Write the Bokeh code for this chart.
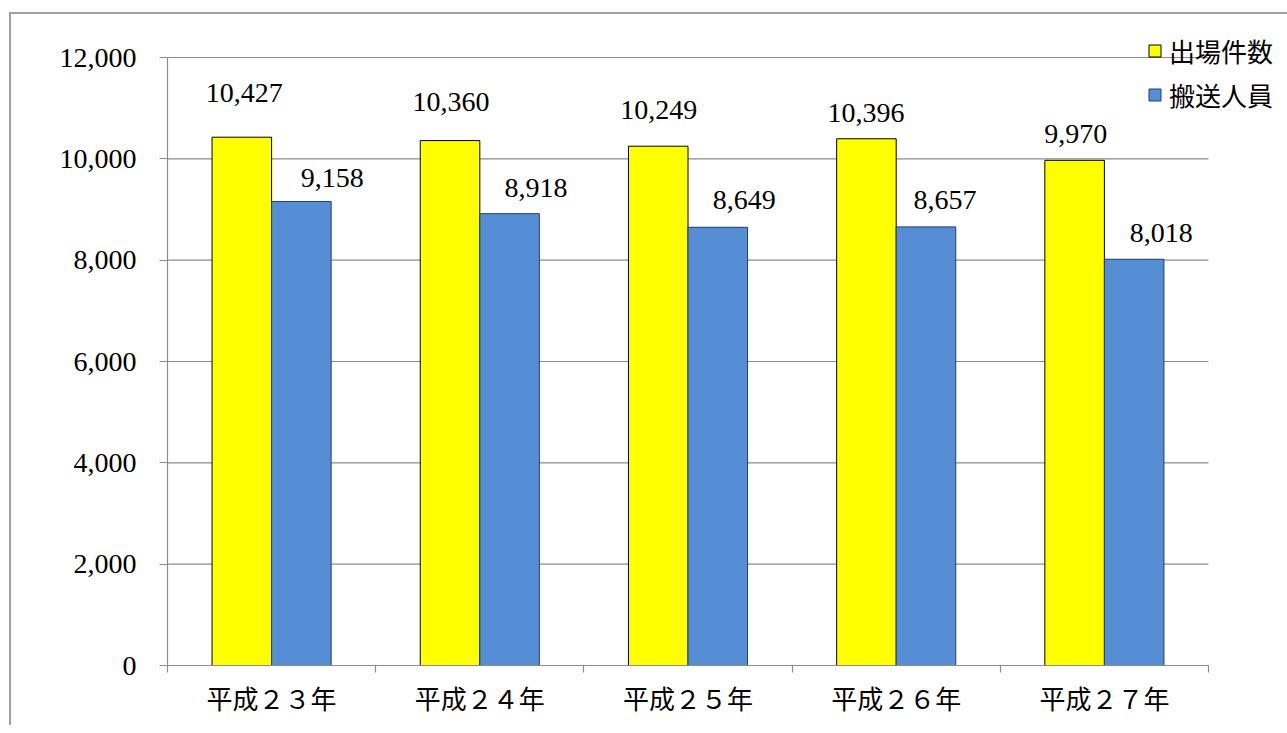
from bokeh.plotting import figure
from bokeh.models import (ColumnDataSource, FixedTicker, NumeralTickFormatter,
                          Legend, LegendItem, Range1d)
from bokeh.core.properties import value
from bokeh.embed import file_html
from bokeh.resources import INLINE

# ---- data ----
categories = ["平成２３年", "平成２４年", "平成２５年", "平成２６年", "平成２７年"]
series_names = ["出場件数", "搬送人員"]
dispatches = [10427, 10360, 10249, 10396, 9970]
transported = [9158, 8918, 8649, 8657, 8018]
y_ticks = [0, 2000, 4000, 6000, 8000, 10000, 12000]
y_max = 12000

# label placement (pixel offsets from bar top centre)
disp_dx = [2.5, 1, 0.5, -0.5, 1]
disp_dy = [-44.5, -38.5, -36.5, -25.5, -26]
tran_dx = [31, 26.5, 26.5, 19, 27]
tran_dy = [-23.5, -25.5, -27, -27, -26.5]

YELLOW = "#FFFF00"
BLUE = "#558ED5"
GRID = "#8c8c8c"
SERIF = "Liberation Serif"
CJK = "Noto Sans CJK JP"

n = len(categories)
centers = [i + 0.5 for i in range(n)]
bar_w = 0.286
off = 0.143

# layout (pixels)
AXIS_W = 1041      # width of the category axis
AXIS_H = 608       # height of the value axis
FRAME_W = 1120     # frame extends right to leave room for the legend
FRAME_H = 651      # frame extends up to leave room for the legend

src_d = ColumnDataSource(dict(
    x=[c - off for c in centers], top=dispatches,
    label=[f"{v:,}" for v in dispatches], dx=disp_dx, dy=disp_dy))
src_t = ColumnDataSource(dict(
    x=[c + off for c in centers], top=transported,
    label=[f"{v:,}" for v in transported], dx=tran_dx, dy=tran_dy))
src_g = ColumnDataSource(dict(y=y_ticks, x0=[0] * len(y_ticks), x1=[n] * len(y_ticks)))

p = figure(output_backend="svg", toolbar_location=None,
           frame_width=FRAME_W, frame_height=FRAME_H,
           min_border_left=156, min_border_right=0,
           min_border_top=0, min_border_bottom=60,
           x_range=Range1d(0, n * FRAME_W / AXIS_W),
           y_range=Range1d(0, y_max * FRAME_H / AXIS_H))
p.outline_line_color = None
p.background_fill_color = "white"
p.border_fill_color = "white"
p.styles = {"margin-left": "9px", "margin-top": "12px",
            "border-left": "2px solid #a0a0a0", "border-top": "2px solid #a0a0a0"}

p.xgrid.visible = False
p.ygrid.visible = False

# horizontal gridlines limited to the category span
p.segment(x0="x0", x1="x1", y0="y", y1="y", source=src_g,
          line_color=GRID, line_width=1.2)

r_d = p.vbar(x="x", top="top", width=bar_w, source=src_d,
             fill_color=YELLOW, line_color="black", line_width=1)
r_t = p.vbar(x="x", top="top", width=bar_w, source=src_t,
             fill_color=BLUE, line_color="#243F60", line_width=1)

for src in (src_d, src_t):
    p.text(x="x", y="top", text="label", source=src,
           x_offset="dx", y_offset="dy",
           text_align="center", text_baseline="middle",
           text_font=value(SERIF), text_font_size="28px", text_color="black")

# y axis
ya = p.yaxis[0]
ya.bounds = (0, y_max)
ya.ticker = FixedTicker(ticks=y_ticks)
ya.formatter = NumeralTickFormatter(format="0,0")
ya.axis_line_color = GRID
ya.axis_line_width = 1.2
ya.major_tick_line_color = GRID
ya.major_tick_line_width = 1.2
ya.major_tick_out = 8
ya.major_tick_in = 0
ya.minor_tick_line_color = None
ya.major_label_text_font = SERIF
ya.major_label_text_font_size = "28px"
ya.major_label_text_color = "black"
ya.major_label_standoff = 23

# x axis
xa = p.xaxis[0]
xa.bounds = (0, n)
xa.ticker = FixedTicker(ticks=centers, minor_ticks=list(range(n + 1)))
xa.major_label_overrides = {c: lab for c, lab in zip(centers, categories)}
xa.axis_line_color = GRID
xa.axis_line_width = 1.2
xa.major_tick_line_color = None
xa.major_tick_out = 0
xa.major_tick_in = 0
xa.minor_tick_line_color = GRID
xa.minor_tick_line_width = 1.2
xa.minor_tick_out = 7
xa.minor_tick_in = 0
xa.major_label_text_font = CJK
xa.major_label_text_font_size = "26px"
xa.major_label_text_color = "black"
xa.major_label_standoff = 6

# legend
legend = Legend(items=[LegendItem(label=series_names[0], renderers=[r_d]),
                       LegendItem(label=series_names[1], renderers=[r_t])],
                location=(980, 552), orientation="vertical",
                glyph_width=15, glyph_height=15, label_standoff=7,
                spacing=7, padding=0, margin=0,
                border_line_color=None, background_fill_alpha=0,
                label_text_font=CJK, label_text_font_size="26px",
                label_text_color="black")
p.add_layout(legend, "center")

open("out.html", "w").write(file_html(p, INLINE))
